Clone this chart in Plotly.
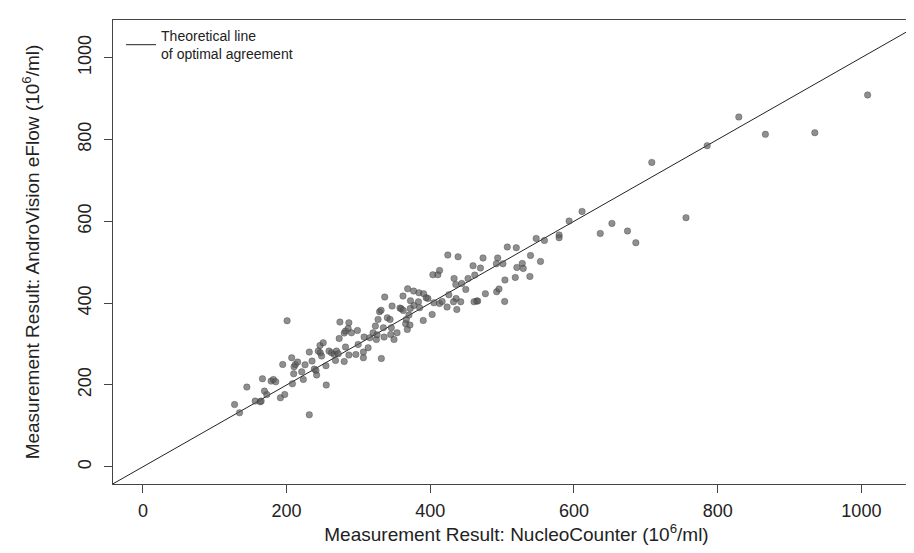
import plotly.graph_objects as go

# NucleoCounter results (10^6/ml)
nucleo = [
    127.6, 134.5, 144.7, 156.3, 163.3, 172.4, 231.6,
    200.7, 166.4, 169.2, 164.6, 178.5, 181.7, 184.9, 194.6, 191.4, 197.4,
    207.1, 208.1, 210.4, 212.2, 215.4, 209.9, 221.0, 223.3, 225.7, 231.6,
    235.4, 238.6, 240.9, 241.8, 246.5, 244.1, 246.9, 251.0, 248.7, 255.2,
    254.8, 259.0, 262.6, 266.3, 269.5, 271.9, 268.1, 273.2, 274.2, 280.2,
    282.0, 280.2, 282.0, 286.7, 285.7, 286.7, 290.3, 296.4, 298.6, 299.6,
    306.9, 306.9, 307.9, 313.5,
    315.8, 320.4, 323.6, 325.0, 325.9, 327.3, 329.4, 331.5, 331.9, 334.7,
    335.7, 336.6, 340.2, 344.0, 344.9, 345.8, 346.8, 349.5, 353.7, 357.8,
    359.6, 362.4, 362.0, 368.5, 366.6, 370.3, 365.7, 371.7, 368.0, 372.4,
    376.8, 384.2, 390.7, 394.3, 377.3, 383.5, 385.2, 390.2, 372.1,
    424.4, 438.7, 403.6, 410.5, 412.9, 433.1, 435.5, 443.8, 449.4, 452.6,
    459.5, 461.9, 469.8, 473.4, 493.8, 492.0, 501.1, 507.2, 519.7, 503.9,
    520.5, 528.0, 529.4, 539.5, 553.4, 547.4, 558.9, 579.3, 579.3, 518.3,
    538.6, 396.7, 405.0, 412.9, 416.5, 425.8, 435.9, 432.3, 442.4, 423.4,
    436.9, 402.6, 464.6, 466.0, 460.9, 476.7, 492.4, 495.6, 503.5,
    593.2, 611.2, 636.6, 652.8, 674.5, 686.1, 708.3, 755.9, 785.4, 829.4,
    866.4, 935.2, 1008.7,
]

# AndroVision eFlow results (10^6/ml)
androvision = [
    152.3, 132.0, 194.9, 160.6, 158.9, 176.8, 127.1,
    357.0, 215.2, 185.1, 160.6, 209.5, 213.4, 207.8, 250.1, 168.7, 176.8,
    266.5, 202.9, 244.5, 250.1, 256.0, 227.4, 232.3, 213.4, 249.4, 280.4,
    258.4, 238.9, 235.5, 224.2, 296.6, 282.9, 278.7, 303.2, 270.7, 199.8,
    246.9, 282.9, 278.7, 274.6, 282.9, 276.3, 259.9, 313.7, 353.8, 257.5,
    292.7, 326.9, 331.8, 352.1, 338.1, 273.1, 327.6, 274.6, 333.3, 299.0,
    280.4, 266.5, 317.1, 291.0,
    315.4, 327.6, 344.0, 311.2, 322.7, 360.1, 379.0, 382.6, 264.8, 339.9,
    317.1, 414.9, 364.3, 360.1, 323.5, 339.9, 392.9, 311.2, 327.6, 388.0,
    386.3, 382.2, 417.4, 435.2, 360.1, 370.9, 349.6, 346.5, 335.7, 405.9,
    429.6, 425.4, 423.0, 413.2, 394.4, 403.4, 388.8, 357.7, 387.0,
    517.6, 513.4, 469.4, 469.4, 480.0, 460.4, 445.7, 448.2, 433.5, 460.4,
    491.4, 468.7, 485.8, 510.3, 510.3, 496.3, 496.3, 537.2, 535.5, 456.5,
    487.3, 497.1, 484.8, 516.6, 502.0, 558.2, 553.3, 566.5, 559.9, 462.8,
    465.3, 411.5, 401.0, 399.3, 404.2, 420.5, 411.5, 403.4, 403.4, 390.5,
    384.6, 372.4, 405.1, 405.1, 403.4, 423.0, 427.9, 434.5, 404.2,
    600.7, 624.2, 570.4, 594.9, 576.3, 547.7, 744.0, 608.8, 784.8, 855.0,
    812.5, 816.6, 908.8,
]

# Theoretical line of optimal agreement (y = x), spanning beyond the axes
agreement = [-100, 1200]

x_ticks = [0, 200, 400, 600, 800, 1000]
y_ticks = [0, 200, 400, 600, 800, 1000]
x_range = [-41.6, 1081.6]
y_range = [-42, 1092]

FONT = "Liberation Sans, Arial, sans-serif"

fig = go.Figure()

fig.add_trace(go.Scatter(
    x=agreement, y=agreement, mode="lines",
    line=dict(color="#222222", width=1),
    name="Theoretical line<br>of optimal agreement",
    showlegend=True,
))

fig.add_trace(go.Scatter(
    x=nucleo, y=androvision, mode="markers",
    marker=dict(size=6.5, color="rgba(90,90,90,0.68)",
                line=dict(color="rgba(40,40,40,0.5)", width=0.6)),
    showlegend=False,
))

axis_common = dict(
    showline=True, linecolor="#444444", linewidth=1, mirror=True,
    ticks="outside", ticklen=8, tickcolor="#444444", tickwidth=1,
    showgrid=False, zeroline=False, automargin=False,
    tickfont=dict(family=FONT, size=18, color="#222222"),
)

fig.update_xaxes(
    range=x_range, tickvals=x_ticks, ticktext=[str(v) for v in x_ticks],
    ticklabelstandoff=2,
    title=dict(text="Measurement Result: NucleoCounter (10<sup>6</sup>/ml)",
               font=dict(family=FONT, size=19, color="#222222"), standoff=8),
    **axis_common,
)
fig.update_yaxes(
    range=y_range, tickvals=y_ticks, ticktext=[str(v) for v in y_ticks],
    tickangle=-90, ticklabelstandoff=6,
    title=dict(text="Measurement Result: AndroVision eFlow (10<sup>6</sup>/ml)",
               font=dict(family=FONT, size=19, color="#222222"), standoff=30),
    **axis_common,
)

fig.update_layout(
    width=914, height=553,
    margin=dict(l=105, r=2, t=12, b=77),
    paper_bgcolor="white", plot_bgcolor="white",
    font=dict(family=FONT, color="#222222"),
    legend=dict(x=0.01, y=1.0, xanchor="left", yanchor="top",
                bgcolor="rgba(0,0,0,0)", borderwidth=0,
                font=dict(family=FONT, size=14, color="#222222")),
)

fig.write_html("out.html")
